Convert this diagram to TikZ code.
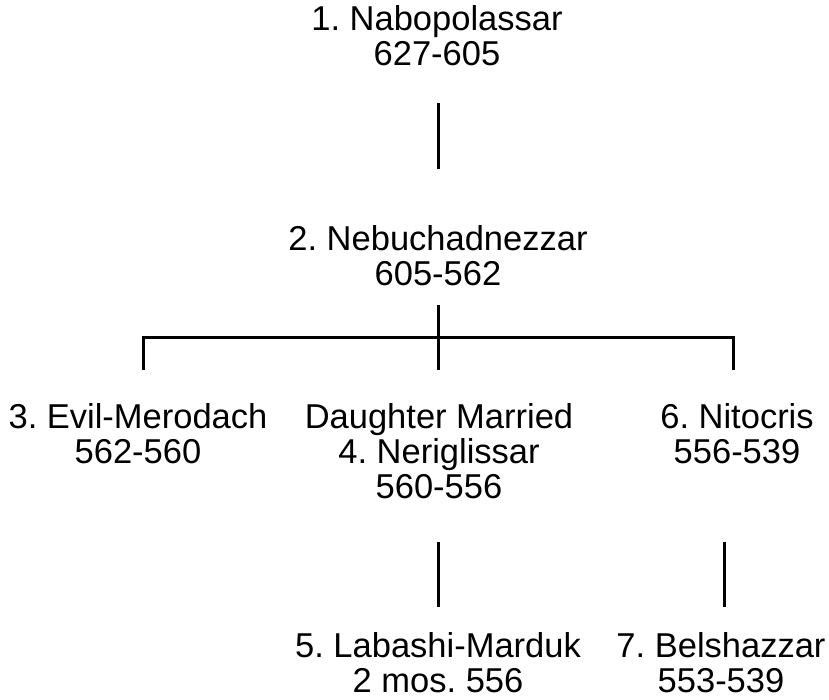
\documentclass[tikz,border=0pt]{standalone}
\usepackage{fontspec}
\setmainfont{Liberation Sans}
\frenchspacing
\begin{document}
\begin{tikzpicture}[x=1pt,y=-1pt,
  person/.style={align=center,inner sep=0pt,anchor=base,
    font=\fontsize{34.5}{35}\selectfont},
  link/.style={line width=3pt,black}]
\useasboundingbox (0,0) rectangle (829,700);
\fill[white] (0,0) rectangle (829,700);
% base anchor = baseline of the last line
\node[person] (n1) at (437,66) {1. Nabopolassar\\627-605};
\node[person] (n2) at (438,286) {2. Nebuchadnezzar\\605-562};
\node[person] (n3) at (138,463) {3. Evil-Merodach\\562-560};
\node[person] (n4) at (439,498) {Daughter Married\\4. Neriglissar\\560-556};
\node[person] (n6) at (737,463) {6. Nitocris\\556-539};
\node[person] (n5) at (438,692) {5. Labashi-Marduk\\2 mos. 556};
\node[person] (n7) at (721,692) {7. Belshazzar\\553-539};
% connector ends
\coordinate (c1) at (438,103);
\coordinate (c2) at (438,169);
\coordinate (j) at (438,337);
\coordinate (jt) at (438,305);
\coordinate (jb) at (438,370);
\coordinate (l3) at (143,370);
\coordinate (l6) at (733,370);
\coordinate (c4) at (438,542);
\coordinate (c5) at (438,607);
\coordinate (c6) at (724,542);
\coordinate (c7) at (724,607);
\draw[link] (c1) -- (c2);
\draw[link] (jt) -- (jb);
\draw[link] (l3) -- (l3 |- j) -- (l6 |- j) -- (l6);
\draw[link] (c4) -- (c5);
\draw[link] (c6) -- (c7);
\end{tikzpicture}
\end{document}
